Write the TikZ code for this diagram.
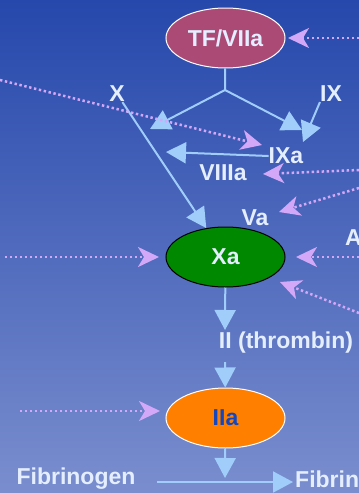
\documentclass[tikz,border=0pt]{standalone}
\usepackage{fontspec}
\setmainfont{Liberation Sans}
\usetikzlibrary{shapes.geometric,arrows.meta}
\definecolor{bgtop}{RGB}{38,72,172}
\definecolor{bgbot}{RGB}{122,142,206}
\definecolor{flow}{RGB}{160,205,250}
\definecolor{feed}{RGB}{212,168,248}
\definecolor{lbl}{RGB}{228,238,255}
\definecolor{tfcol}{RGB}{172,74,118}
\definecolor{xacol}{RGB}{0,136,0}
\definecolor{iiacol}{RGB}{255,128,0}
\definecolor{iiatext}{RGB}{20,70,190}
\newcommand{\feedline}[2]{\draw[feedarrow] (#1)--(#2);}
\tikzset{
  factor/.style={ellipse,minimum width=119pt,minimum height=60pt,inner sep=0pt,line width=1pt,font=\fontsize{23}{25}\selectfont\bfseries},
  tag/.style={text=lbl,inner sep=0pt,font=\fontsize{23}{25}\selectfont\bfseries},
  flowarrow/.style={draw=flow,line width=2pt,-{Triangle[length=20pt,width=21pt]}},
  feedarrow/.style={draw=feed,line width=2.5pt,dash pattern=on 2.4pt off 2.6pt,-{Stealth[length=21pt,width=20pt,inset=6pt]}}
}

\begin{document}
\begin{tikzpicture}[x=1pt,y=-1pt]
\useasboundingbox (0,0) rectangle (359,493);
\shade[top color=bgtop,bottom color=bgbot] (0,0) rectangle (359,493);
% the three enzymes
\node[factor,fill=tfcol,draw=white,text=lbl] (tf) at (225.5,38) {TF/VIIa};
\node[factor,fill=xacol,draw=black,text=lbl] (xa) at (225.5,257) {Xa};
\node[factor,fill=iiacol,draw=white,text=iiatext] (iia) at (225.5,418) {IIa};
% labels
\node[tag] (x) at (117,94) {X};
\node[tag] (ix) at (331,94) {IX};
\node[tag] (ixa) at (286,156) {IXa};
\node[tag] (viiia) at (223,173) {VIIIa};
\node[tag] (va) at (255,218) {Va};
\node[tag,anchor=west] (at) at (345,238) {A};
\node[tag] (ii) at (286,343) {II (thrombin)};
\node[tag] (fg) at (76,479) {Fibrinogen};
\node[tag,anchor=west] (fb) at (295,479) {Fibrin};
% free ends
\coordinate (j) at (225,90);
\coordinate (jl) at (150,129);
\coordinate (jr) at (302,130);
\coordinate (ixtip) at (303,142);
\coordinate (ixatip) at (166,152);
\coordinate (iitop) at (225,330);
\coordinate (iibot) at (225,362);
\coordinate (iiatip) at (225,478);
\coordinate (fgend) at (157,482);
\coordinate (fbtip) at (293,482);
% cascade
\draw[draw=flow,line width=2pt] (tf) -- (j);
\draw[flowarrow] (j) -- (jl);
\draw[flowarrow] (j) -- (jr);
\draw[flowarrow] (ix.south west) -- (ixtip);
\draw[flowarrow] (x) -- (xa);
\draw[flowarrow] (ixa.west) -- (ixatip);
\draw[flowarrow] (xa) -- (iitop);
\draw[flowarrow] (iibot) -- (iia);
\draw[flowarrow] (iia) -- (iiatip);
\draw[flowarrow] (fgend) -- (fbtip);
% inhibitor sites
\coordinate (d1) at (359,38);  \coordinate (e1) at (288,38);
\coordinate (d2) at (0,80);    \coordinate (e2) at (262,145);
\coordinate (d3) at (359,170); \coordinate (e3) at (263,174);
\coordinate (d4) at (359,188); \coordinate (e4) at (279,212);
\coordinate (d5) at (359,257); \coordinate (e5) at (296,257);
\coordinate (d6) at (5,257);   \coordinate (e6) at (159,257);
\coordinate (d7) at (359,313); \coordinate (e7) at (280,282);
\coordinate (d8) at (20,411);  \coordinate (e8) at (160,411);
\feedline{d1}{e1}\feedline{d2}{e2}\feedline{d3}{e3}\feedline{d4}{e4}
\feedline{d5}{e5}\feedline{d6}{e6}\feedline{d7}{e7}\feedline{d8}{e8}
\end{tikzpicture}
\end{document}
